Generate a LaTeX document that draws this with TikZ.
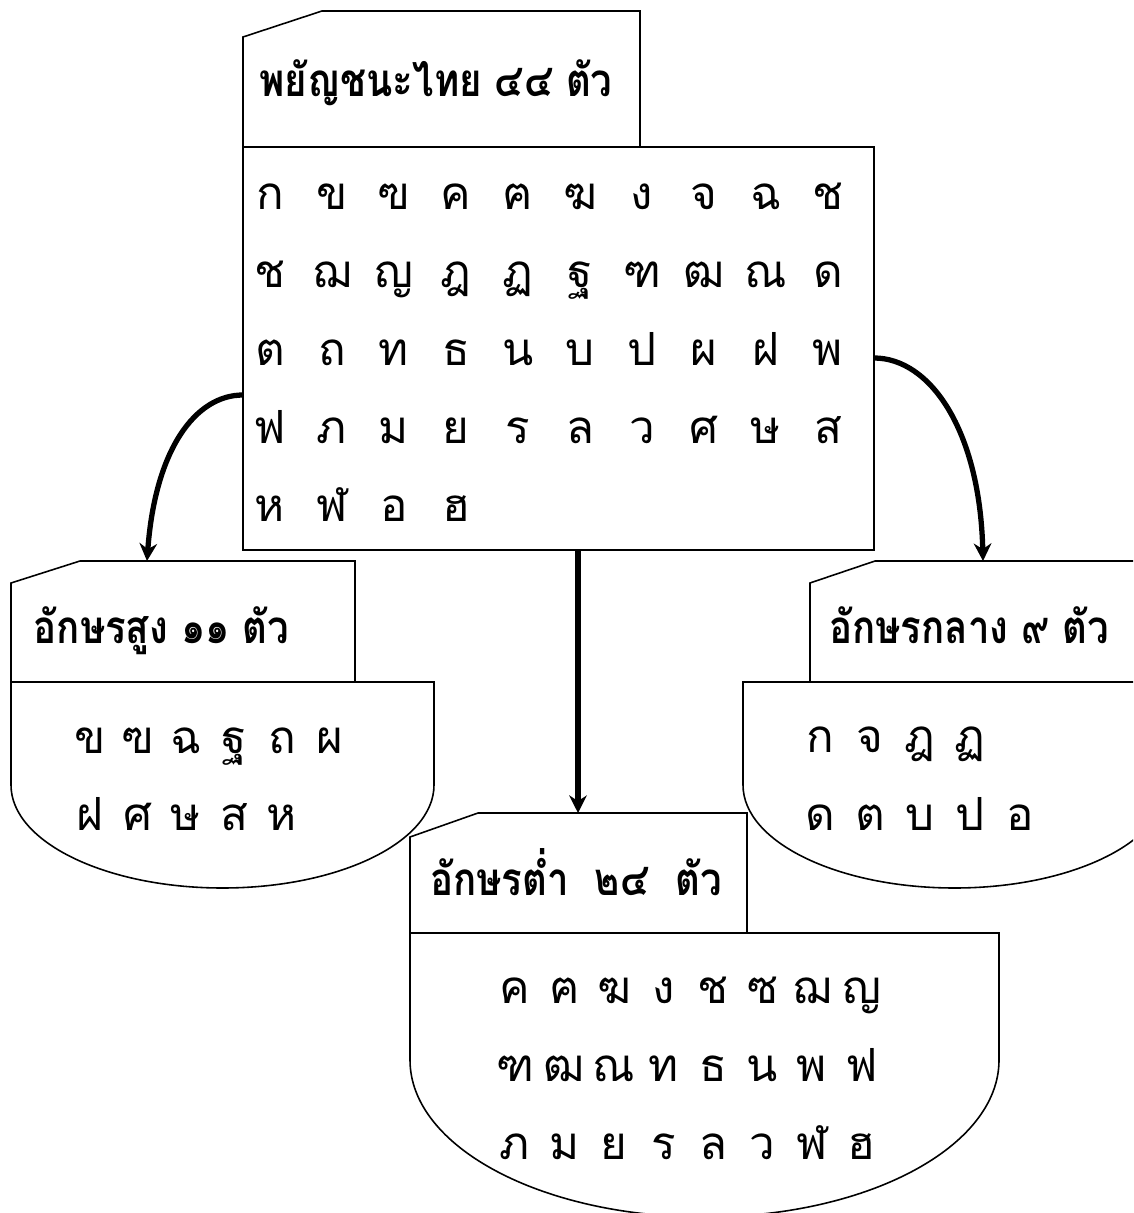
\documentclass[tikz,border=0pt]{standalone}
\usepackage{fontspec}
\newfontfamily\thaifont[Script=Thai]{Loma}
\newfontfamily\thaihead[Script=Thai,FakeStretch=0.84]{Loma}
\usepackage{tikz}
\usetikzlibrary{arrows.meta}
\tikzstyle{heading}   = [font=\thaihead\bfseries\fontsize{13}{15}\selectfont, anchor=base]
\tikzstyle{letter}    = [font=\thaifont\fontsize{13}{15}\selectfont, anchor=base, inner sep=0pt]
\tikzstyle{box}       = [line width=0.45pt]
\tikzstyle{arrow}     = [line width=1.5pt,->,>={Stealth[length=5pt,width=5pt]}]

\begin{document}
\begin{tikzpicture}
		\clip (0,0) rectangle (11.33,-12.13);

		\draw[box] (2.43,-1.47) -- (2.43,-0.37) -- (3.22,-0.11) -- (6.40,-0.11) -- (6.40,-1.47);
		\draw[box] (2.43,-1.47) rectangle (8.74,-5.50);
		\node[heading] (allhead) at (4.36,-0.97) {พยัญชนะไทย ๔๔ ตัว};
		\foreach \row [count=\r from 0] in {{ก,ข,ฃ,ค,ฅ,ฆ,ง,จ,ฉ,ช},{ช,ฌ,ญ,ฎ,ฏ,ฐ,ฑ,ฒ,ณ,ด},{ต,ถ,ท,ธ,น,บ,ป,ผ,ฝ,พ},{ฟ,ภ,ม,ย,ร,ล,ว,ศ,ษ,ส},{ห,ฬ,อ,ฮ}}
			\foreach \c [count=\i from 0] in \row
				\node[letter] (all-\r-\i) at (2.70+0.62*\i,-2.10-0.78*\r) {\c};

		\draw[box] (0.11,-6.82) -- (0.11,-5.83) -- (0.80,-5.61) -- (3.55,-5.61) -- (3.55,-6.82);
		\draw[box] (0.11,-6.82) -- (4.34,-6.82) -- (4.34,-7.85) .. controls (4.34,-8.42) and (3.39,-8.88) .. (2.225,-8.88)
			.. controls (1.06,-8.88) and (0.11,-8.42) .. (0.11,-7.85) -- cycle;
		\node[heading] (highhead) at (1.615,-6.43) {อักษรสูง ๑๑ ตัว};
		\foreach \row [count=\r from 0] in {{ข,ฃ,ฉ,ฐ,ถ,ผ},{ฝ,ศ,ษ,ส,ห}}
			\foreach \c [count=\i from 0] in \row
				\node[letter] (high-\r-\i) at (0.90+0.48*\i,-7.53-0.77*\r) {\c};

		\draw[box] (8.10,-6.82) -- (8.10,-5.83) -- (8.75,-5.61) -- (11.54,-5.61) -- (11.54,-6.82);
		\draw[box] (7.43,-6.82) -- (11.66,-6.82) -- (11.66,-7.85) .. controls (11.66,-8.42) and (10.71,-8.88) .. (9.545,-8.88)
			.. controls (8.38,-8.88) and (7.43,-8.42) .. (7.43,-7.85) -- cycle;
		\node[heading] (midhead) at (9.69,-6.43) {อักษรกลาง ๙ ตัว};
		\foreach \row [count=\r from 0] in {{ก,จ,ฎ,ฏ},{ด,ต,บ,ป,อ}}
			\foreach \c [count=\i from 0] in \row
				\node[letter] (mid-\r-\i) at (8.20+0.50*\i,-7.52-0.78*\r) {\c};

		\draw[box] (4.10,-9.33) -- (4.10,-8.37) -- (4.78,-8.13) -- (7.47,-8.13) -- (7.47,-9.33);
		\draw[box] (4.10,-9.33) -- (9.99,-9.33) -- (9.99,-10.60) .. controls (9.99,-11.47) and (8.67,-12.17) .. (7.045,-12.17)
			.. controls (5.42,-12.17) and (4.10,-11.47) .. (4.10,-10.60) -- cycle;
		\node[heading] (lowhead) at (5.76,-8.95) {อักษรต่ำ~ ๒๔~ ตัว};
		\foreach \row [count=\r from 0] in {{ค,ฅ,ฆ,ง,ช,ซ,ฌ,ญ},{ฑ,ฒ,ณ,ท,ธ,น,พ,ฟ},{ภ,ม,ย,ร,ล,ว,ฬ,ฮ}}
			\foreach \c [count=\i from 0] in \row
				\node[letter] (low-\r-\i) at (5.15+0.495*\i,-10.03-0.78*\r) {\c};

		\coordinate (all-l) at (2.43,-3.95);
		\coordinate (all-r) at (8.74,-3.58);
		\coordinate (all-b) at (5.78,-5.50);
		\coordinate (high-t) at (1.47,-5.61);
		\coordinate (mid-t) at (9.83,-5.61);
		\coordinate (low-t) at (5.78,-8.13);
		\draw[arrow] (all-l) .. controls (1.95,-3.95) and (1.55,-4.50) .. (high-t);
		\draw[arrow] (all-r) .. controls (9.30,-3.58) and (9.80,-4.30) .. (mid-t);
		\draw[arrow] (all-b) -- (low-t);
	\end{tikzpicture}
\end{document}
